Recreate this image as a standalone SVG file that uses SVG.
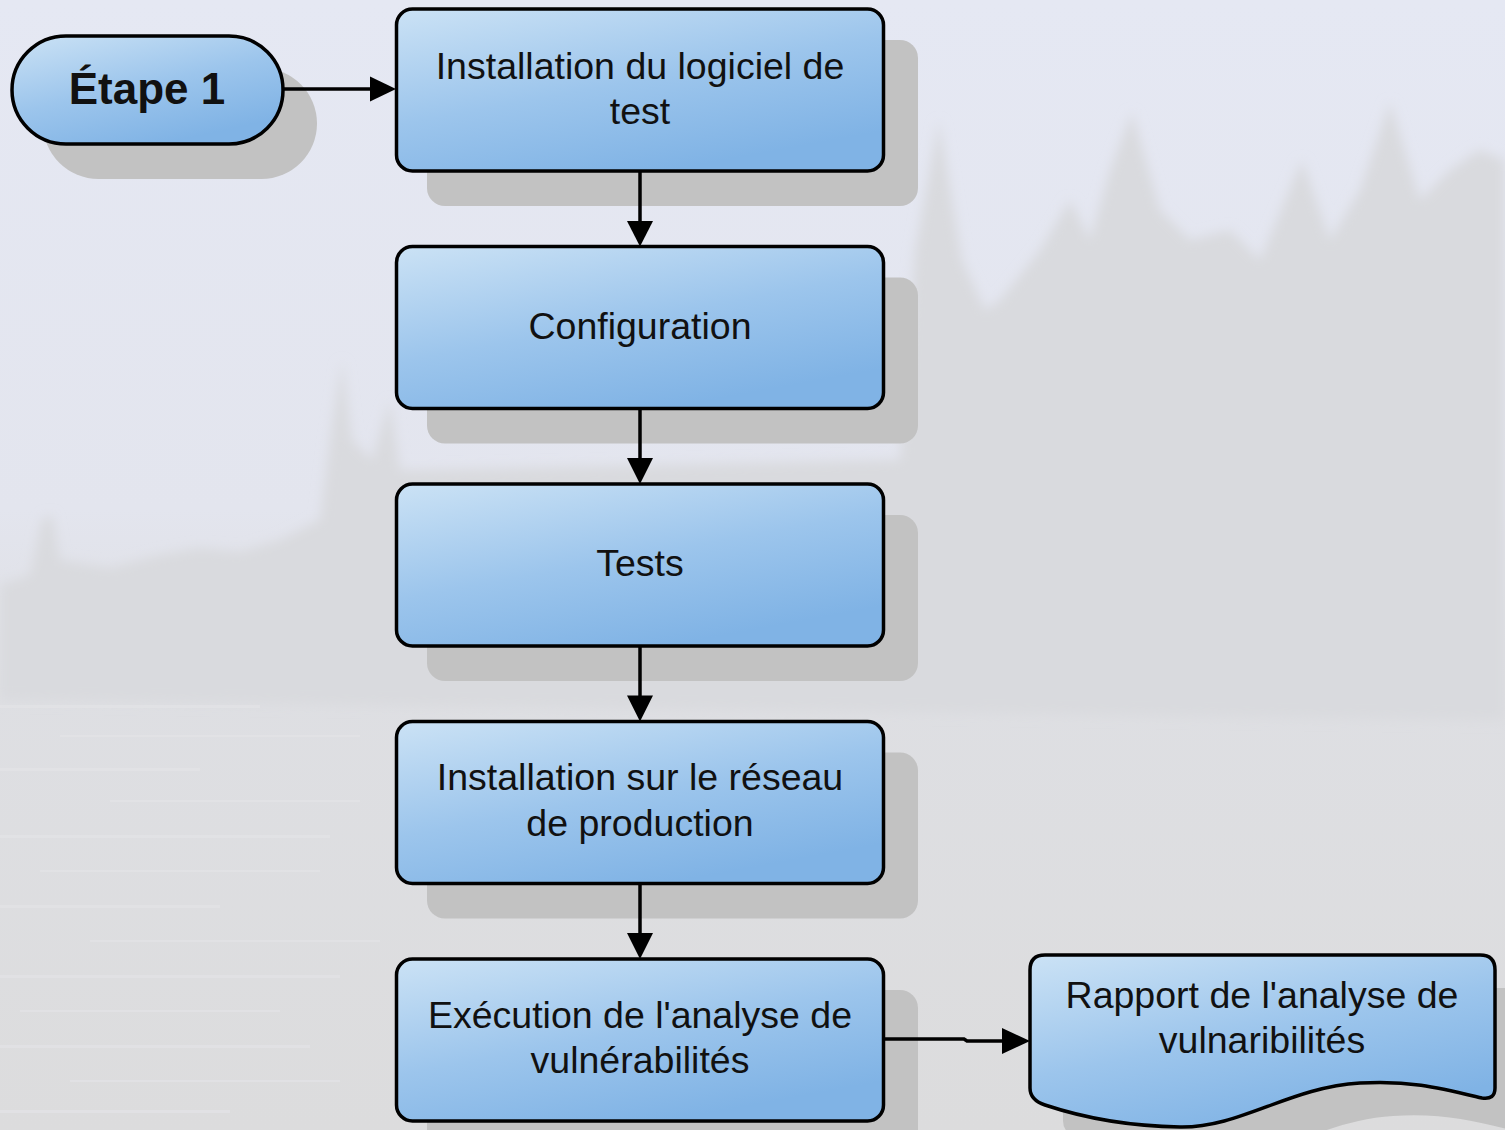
<svg xmlns="http://www.w3.org/2000/svg" width="1505" height="1130" viewBox="0 0 1505 1130">
  <defs>
    <linearGradient id="sky" x1="0" y1="0" x2="0" y2="1">
      <stop offset="0" stop-color="#e5e8f3"/>
      <stop offset="0.45" stop-color="#e3e5ee"/>
      <stop offset="0.6" stop-color="#dedfe3"/>
      <stop offset="1" stop-color="#dcdcdd"/>
    </linearGradient>
    <linearGradient id="boxFill" x1="0" y1="0" x2="0.55" y2="1">
      <stop offset="0" stop-color="#cbe2f5"/>
      <stop offset="0.55" stop-color="#9cc5ec"/>
      <stop offset="1" stop-color="#80b3e5"/>
    </linearGradient>
    <filter id="haze" x="-5%" y="-5%" width="110%" height="110%">
      <feGaussianBlur stdDeviation="6"/>
    </filter>
    <style>
      .shadow { fill: #c2c2c2; }
      .box { fill: url(#boxFill); stroke: #000; stroke-width: 3.5; }
      .label { font-family: "Liberation Sans", Arial, sans-serif; font-size: 37.5px; fill: #111; text-anchor: middle; }
      .title { font-family: "Liberation Sans", Arial, sans-serif; font-size: 44px; font-weight: bold; fill: #111; text-anchor: middle; }
      .wire { fill: none; stroke: #000; stroke-width: 3.5; }
      .head { fill: #000; }
      .tree { fill: #d9dade; }
      .water { fill: #e3e3e6; }
    </style>
  </defs>

  <!-- backdrop: misty lake with conifers -->
  <rect x="0" y="0" width="1505" height="1130" fill="url(#sky)"/>
  <g filter="url(#haze)">
    <path class="tree" d="M0 585 L30 575 L42 520 L52 515 L60 560 L110 568 L160 555 L200 548 L240 552 L280 540 L320 520 L330 440 L342 360 L352 440 L372 460 L390 400 L400 470 L420 470 L900 460 L915 250 L939 120 L962 260 L985 310 L1000 300 L1040 250 L1070 200 L1090 240 L1110 170 L1132 112 L1160 210 L1190 240 L1230 230 L1260 260 L1302 160 L1330 240 L1360 190 L1390 102 L1420 200 L1450 170 L1479 150 L1505 160 L1505 720 L0 700 Z"/>
    <path class="tree" d="M0 600 L1505 600 L1505 720 L0 700 Z" opacity="0.5"/>
  </g>
  <g class="water" opacity="0.8">
    <rect x="0" y="705" width="260" height="3"/>
    <rect x="60" y="735" width="300" height="2"/>
    <rect x="0" y="768" width="200" height="3"/>
    <rect x="110" y="800" width="250" height="2"/>
    <rect x="0" y="835" width="330" height="3"/>
    <rect x="40" y="870" width="280" height="2"/>
    <rect x="0" y="905" width="220" height="3"/>
    <rect x="90" y="940" width="290" height="2"/>
    <rect x="0" y="975" width="340" height="3"/>
    <rect x="20" y="1010" width="260" height="2"/>
    <rect x="0" y="1045" width="310" height="3"/>
    <rect x="70" y="1080" width="270" height="2"/>
    <rect x="0" y="1110" width="230" height="3"/>
  </g>

  <!-- start terminator -->
  <g id="node-etape1">
    <rect class="shadow" x="43" y="68" width="274" height="111" rx="55.5"/>
    <rect class="box" x="12" y="36" width="271" height="108" rx="54"/>
    <text class="title" x="147" y="104">Étape 1</text>
  </g>

  <g id="node-installation-logiciel">
    <rect class="shadow" x="427" y="40" width="491" height="166" rx="18"/>
    <rect class="box" x="396.5" y="9" width="487" height="162" rx="16"/>
    <text class="label" x="640" y="79">Installation du logiciel de</text>
    <text class="label" x="640" y="124">test</text>
  </g>

  <g id="node-configuration">
    <rect class="shadow" x="427" y="277.5" width="491" height="166" rx="18"/>
    <rect class="box" x="396.5" y="246.5" width="487" height="162" rx="16"/>
    <text class="label" x="640" y="339">Configuration</text>
  </g>

  <g id="node-tests">
    <rect class="shadow" x="427" y="515" width="491" height="166" rx="18"/>
    <rect class="box" x="396.5" y="484" width="487" height="162" rx="16"/>
    <text class="label" x="640" y="576">Tests</text>
  </g>

  <g id="node-installation-production">
    <rect class="shadow" x="427" y="752.5" width="491" height="166" rx="18"/>
    <rect class="box" x="396.5" y="721.5" width="487" height="162" rx="16"/>
    <text class="label" x="640" y="790">Installation sur le réseau</text>
    <text class="label" x="640" y="836">de production</text>
  </g>

  <g id="node-execution">
    <rect class="shadow" x="427" y="990" width="491" height="166" rx="18"/>
    <rect class="box" x="396.5" y="959" width="487" height="162" rx="16"/>
    <text class="label" x="640" y="1028">Exécution de l'analyse de</text>
    <text class="label" x="640" y="1073">vulnérabilités</text>
  </g>

  <!-- document shape with wavy bottom -->
  <g id="node-rapport">
    <path class="shadow" transform="translate(33 33)" d="M1030 970 Q1030 955 1045 955 H1480 Q1495 955 1495 970 V1088 Q1495 1100 1482 1098 C1440 1088 1410 1080 1360 1083 C1290 1087 1240 1128 1180 1127 C1120 1126 1075 1115 1045 1105 Q1030 1100 1030 1088 Z"/>
    <path class="box" d="M1030 970 Q1030 955 1045 955 H1480 Q1495 955 1495 970 V1088 Q1495 1100 1482 1098 C1440 1088 1410 1080 1360 1083 C1290 1087 1240 1128 1180 1127 C1120 1126 1075 1115 1045 1105 Q1030 1100 1030 1088 Z"/>
    <text class="label" x="1262" y="1008">Rapport de l'analyse de</text>
    <text class="label" x="1262" y="1053">vulnaribilités</text>
  </g>

  <!-- connectors, drawn over the drop shadows -->
  <g id="connectors">
    <line class="wire" x1="283" y1="89" x2="372" y2="89"/>
    <polygon class="head" points="370,76.5 396,89 370,101.5"/>
    <line class="wire" x1="640" y1="171" x2="640" y2="224"/>
    <polygon class="head" points="627,221 653,221 640,246.5"/>
    <line class="wire" x1="640" y1="408.5" x2="640" y2="461"/>
    <polygon class="head" points="627,458 653,458 640,484"/>
    <line class="wire" x1="640" y1="646" x2="640" y2="699"/>
    <polygon class="head" points="627,695.5 653,695.5 640,721.5"/>
    <line class="wire" x1="640" y1="883.5" x2="640" y2="936"/>
    <polygon class="head" points="627,933 653,933 640,959"/>
    <path class="wire" d="M884 1039 H964 L967 1041 H1005"/>
    <polygon class="head" points="1002,1028 1030,1041 1002,1054"/>
  </g>
</svg>
